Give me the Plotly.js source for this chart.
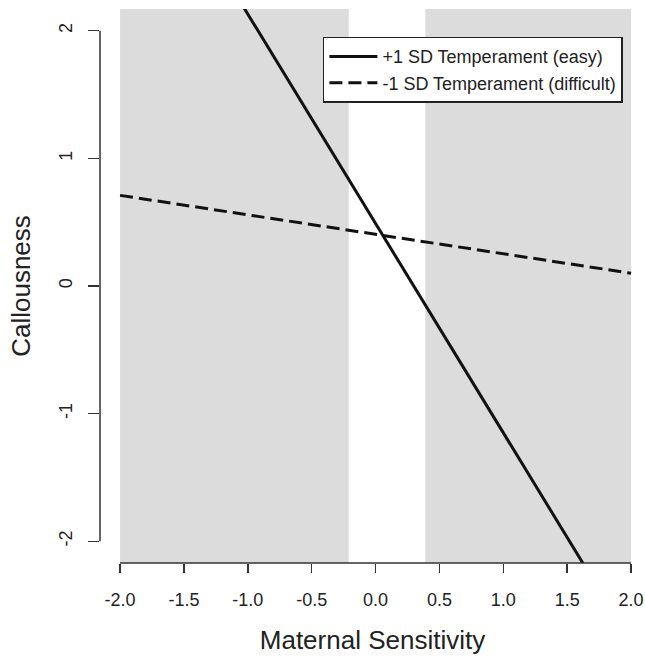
<!DOCTYPE html>
<html>
<head>
<meta charset="utf-8">
<script src="https://cdn.plot.ly/plotly-3.0.1.min.js"></script>
<style>
  html, body { margin: 0; padding: 0; background: #ffffff; }
  #chart { width: 645px; height: 658px; }
</style>
</head>
<body>
<div id="chart"></div>
<script>
// ---- data ----
var seriesNames = ["+1 SD Temperament (easy)", "-1 SD Temperament (difficult)"];
var sensitivityX = [-2.0, 2.0];
var easyCallousness = [3.77, -2.79];
var difficultCallousness = [0.71, 0.10];
// regions of significance (shaded)
var regionStart = [-2.0, 0.39];
var regionEnd = [-0.21, 2.0];
var xTickVals = [-2.0, -1.5, -1.0, -0.5, 0.0, 0.5, 1.0, 1.5, 2.0];
var xTickText = ["-2.0", "-1.5", "-1.0", "-0.5", "0.0", "0.5", "1.0", "1.5", "2.0"];
var yTickVals = [-2, -1, 0, 1, 2];
var yTickText = ["-2", "-1", "0", "1", "2"];

var FONT = "Liberation Sans, Arial, Helvetica, sans-serif";
var INK = "#222222";

var traces = [
  {
    x: sensitivityX, y: easyCallousness, name: seriesNames[0],
    type: "scatter", mode: "lines",
    line: { color: "#111111", width: 3, dash: "solid" }
  },
  {
    x: sensitivityX, y: difficultCallousness, name: seriesNames[1],
    type: "scatter", mode: "lines",
    line: { color: "#111111", width: 3, dash: "13px,6px" }
  }
];

var shapes = [];
for (var i = 0; i < regionStart.length; i++) {
  shapes.push({
    type: "rect", layer: "below", xref: "x", yref: "paper",
    x0: regionStart[i], x1: regionEnd[i], y0: 0, y1: 1,
    fillcolor: "#dcdcdc", line: { width: 0 }
  });
}
// R-style axis lines spanning only the tick range
shapes.push({
  type: "line", xref: "paper", yref: "y", x0: 0, x1: 0,
  y0: Math.min.apply(null, yTickVals), y1: Math.max.apply(null, yTickVals),
  line: { color: "#333333", width: 1.5 }
});
shapes.push({
  type: "line", xref: "x", yref: "paper", y0: 0, y1: 0,
  x0: Math.min.apply(null, xTickVals), x1: Math.max.apply(null, xTickVals),
  line: { color: "#333333", width: 1.5 }
});

var layout = {
  width: 645, height: 658,
  margin: { l: 100, r: 0, t: 9, b: 95 },
  paper_bgcolor: "#ffffff", plot_bgcolor: "#ffffff",
  font: { family: FONT, color: INK },
  showlegend: true,
  legend: {
    x: 0.409, y: 0.95, xanchor: "left", yanchor: "top",
    bgcolor: "#ffffff", bordercolor: "#222222", borderwidth: 1.5,
    font: { family: FONT, size: 18, color: INK },
    itemwidth: 48, tracegroupgap: 0
  },
  xaxis: {
    range: [-2.157, 2.109],
    tickmode: "array", tickvals: xTickVals, ticktext: xTickText,
    ticks: "outside", ticklen: 9, tickwidth: 1.5, tickcolor: "#333333",
    tickfont: { family: FONT, size: 18, color: INK },
    showgrid: false, zeroline: false, showline: false,
    ticklabelstandoff: 11,
    title: { text: "Maternal Sensitivity", font: { family: FONT, size: 26, color: INK }, standoff: 22 },
    fixedrange: true
  },
  yaxis: {
    range: [-2.17, 2.17],
    tickmode: "array", tickvals: yTickVals, ticktext: yTickText,
    ticks: "outside", ticklen: 11, tickwidth: 1.5, tickcolor: "#333333",
    tickangle: -90,
    tickfont: { family: FONT, size: 18, color: INK },
    showgrid: false, zeroline: false, showline: false,
    ticklabelstandoff: 9,
    title: { text: "Callousness", font: { family: FONT, size: 26, color: INK }, standoff: 17 },
    fixedrange: true
  },
  shapes: shapes
};

Plotly.newPlot("chart", traces, layout, { displayModeBar: false, staticPlot: true });
</script>
</body>
</html>
